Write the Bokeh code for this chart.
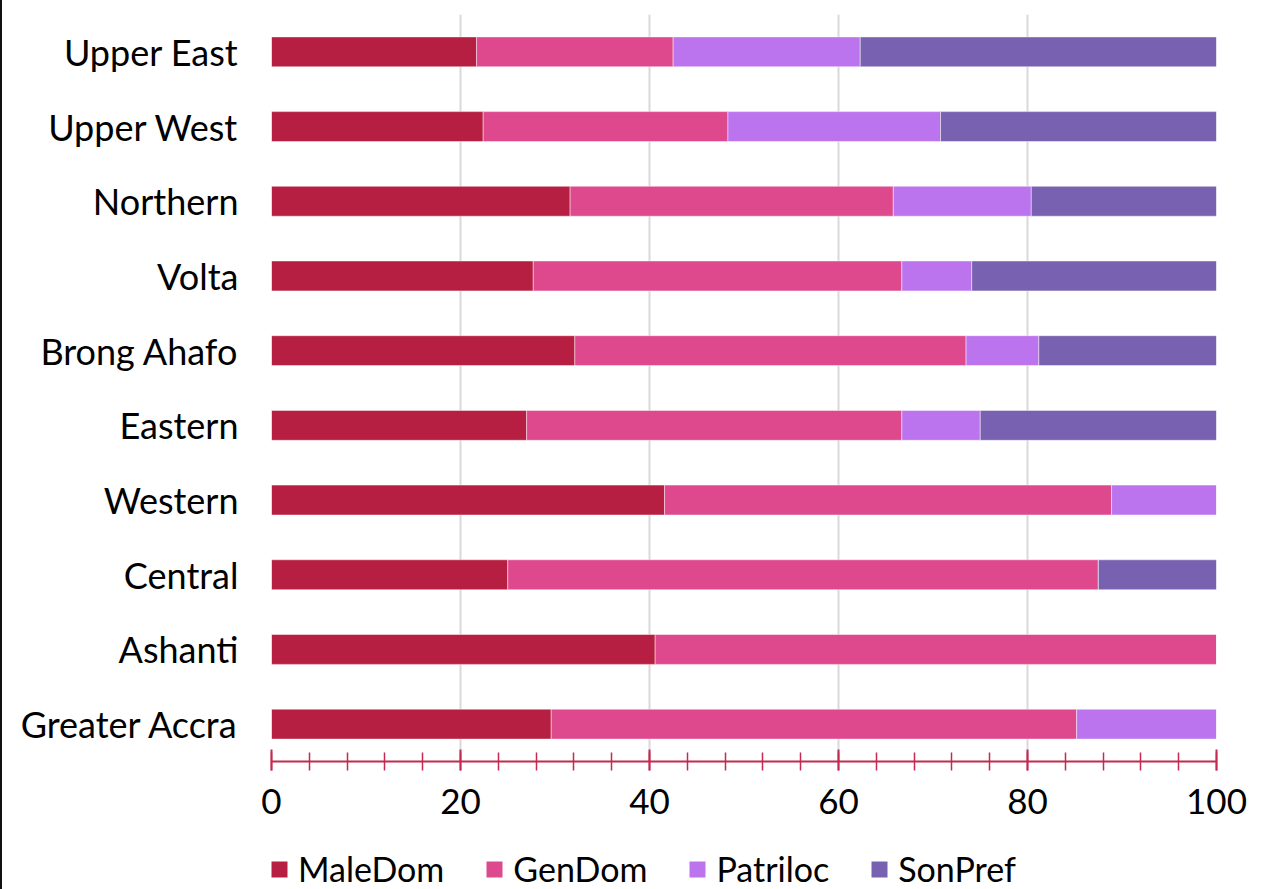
from bokeh.plotting import figure
from bokeh.layouts import column
from bokeh.models import FactorRange, FixedTicker, Legend, LegendItem, ColumnDataSource
from bokeh.embed import file_html
from bokeh.resources import INLINE

# Regions, listed bottom to top on the axis
regions = ["Greater Accra", "Ashanti", "Central", "Western", "Eastern",
           "Brong Ahafo", "Volta", "Northern", "Upper West", "Upper East"]

# Shares (%) per region, same order as `regions`
male_dom = [29.6, 40.6, 25.0, 41.6, 27.0, 32.1, 27.7, 31.6, 22.4, 21.7]
gen_dom  = [55.6, 59.4, 62.5, 47.3, 39.7, 41.4, 39.0, 34.2, 25.9, 20.8]
patriloc = [14.8,  0.0,  0.0, 11.1,  8.3,  7.7,  7.4, 14.6, 22.5, 19.8]
son_pref = [ 0.0,  0.0, 12.5,  0.0, 25.0, 18.8, 25.9, 19.6, 29.2, 37.7]

series = ["MaleDom", "GenDom", "Patriloc", "SonPref"]
colors = ["#B71F42", "#DE488C", "#BC73EE", "#7861B0"]

x_ticks = [0, 20, 40, 60, 80, 100]
x_minor = list(range(0, 101, 4))

FONT = "Lato"
W = 1269

source = ColumnDataSource(dict(region=regions, MaleDom=male_dom, GenDom=gen_dom,
                               Patriloc=patriloc, SonPref=son_pref))

p = figure(width=W, height=843, output_backend="svg", toolbar_location=None,
           y_range=FactorRange(factors=regions, range_padding=0),
           x_range=(0, 100),
           min_border_left=269, min_border_right=55,
           min_border_top=14, min_border_bottom=82)
p.outline_line_color = None
p.background_fill_color = "white"
p.border_fill_color = "white"

p.hbar_stack(series, y="region", height=0.4, color=colors,
             line_color="white", line_alpha=0.45, line_width=1,
             source=source)

# x axis: crimson line with major and minor crossing ticks
xa = p.xaxis[0]
xa.ticker = FixedTicker(ticks=x_ticks, minor_ticks=x_minor)
xa.axis_line_color = "#C42A50"
xa.axis_line_width = 2
xa.major_tick_line_color = "#C42A50"
xa.major_tick_line_width = 2
xa.major_tick_in = 12
xa.major_tick_out = 9
xa.minor_tick_line_color = "#C42A50"
xa.minor_tick_line_width = 1.5
xa.minor_tick_in = 9
xa.minor_tick_out = 9
xa.major_label_text_font = FONT
xa.major_label_text_font_size = "35px"
xa.major_label_text_color = "black"
xa.major_label_standoff = 18

ya = p.yaxis[0]
ya.axis_line_color = None
ya.major_tick_line_color = None
ya.minor_tick_line_color = None
ya.major_label_text_font = FONT
ya.major_label_text_font_size = "36px"
ya.major_label_text_color = "black"
ya.major_label_standoff = 27

p.xgrid.grid_line_color = "#D9D9D9"
p.xgrid.grid_line_width = 2
p.xgrid.ticker = FixedTicker(ticks=x_ticks)
p.ygrid.grid_line_color = None

# Legend strip underneath the chart (frame lines up with the chart's frame)
lg = figure(width=W, height=46, output_backend="svg", toolbar_location=None,
            x_range=(0, 1), y_range=(0, 1),
            min_border_left=269, min_border_right=55, min_border_top=0, min_border_bottom=0)
lg.axis.visible = False
lg.grid.visible = False
lg.outline_line_color = None
lg.border_fill_color = "white"

# swatch renderers carry no drawable data; only their legend glyphs show
swatches = [lg.vbar(x=[0.5], top=[float("nan")], width=0.1, fill_color=c, line_color=None)
            for c in colors]

legend = Legend(items=[LegendItem(label=s, renderers=[r]) for s, r in zip(series, swatches)],
                orientation="horizontal", location=(-2, 0),
                glyph_width=20, glyph_height=20, label_standoff=9, spacing=40,
                padding=0, margin=0, border_line_color=None, background_fill_alpha=0,
                label_text_font=FONT, label_text_font_size="34px",
                label_text_line_height=1.0, label_height=20,
                label_text_color="black")
lg.add_layout(legend, "center")

layout = column(p, lg, spacing=0, styles={"border-left": "2px solid #111111"})

open("out.html", "w").write(file_html(layout, INLINE))
